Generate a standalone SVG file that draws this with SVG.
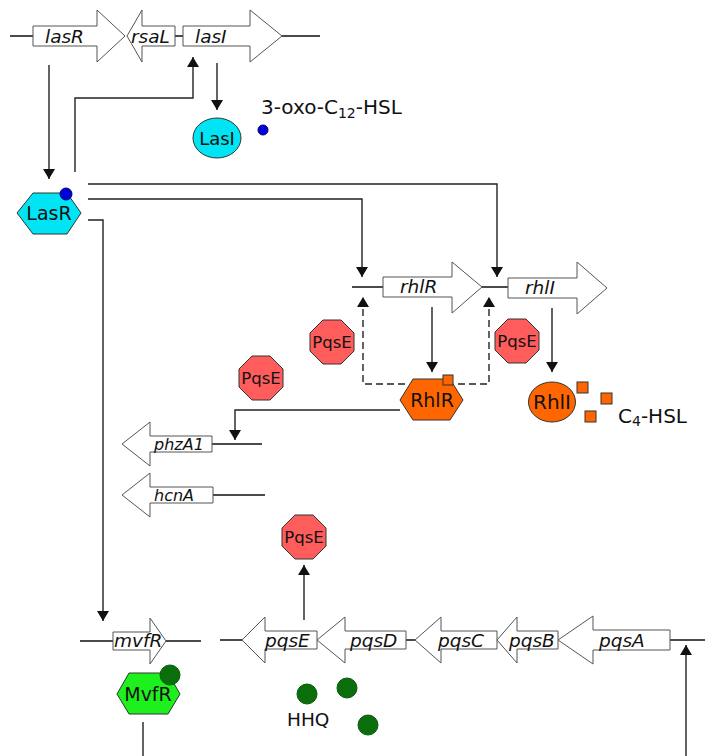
<svg xmlns="http://www.w3.org/2000/svg" width="705" height="756" viewBox="0 0 705 756">
<style>
.gene{fill:#fff;stroke:#555;stroke-width:1}
.dna{stroke:#111;stroke-width:1.5;fill:none}
.gl{font-family:"DejaVu Sans",Verdana,sans-serif;font-style:italic;fill:#111}
.pl{font-family:"DejaVu Sans",Verdana,sans-serif;fill:#111}
.con{stroke:#222;stroke-width:1.4;fill:none}
.dash{stroke:#222;stroke-width:1.4;fill:none;stroke-dasharray:7,4}
.pqse{fill:#FF5C5C;stroke:#333;stroke-width:1}
.cyan{fill:#00E4F4;stroke:#333;stroke-width:1}
.orange{fill:#FF6600;stroke:#333;stroke-width:1}
.green{fill:#1EF01E;stroke:#333;stroke-width:1}
.dg{fill:#0A6E0A;stroke:#0A5A0A;stroke-width:1}
.blue{fill:#0000DD;stroke:#000066;stroke-width:1}
</style>
<defs>
<marker id="ah" viewBox="0 0 10 12" refX="10" refY="6" markerWidth="10" markerHeight="12" markerUnits="userSpaceOnUse" orient="auto">
<path d="M0,0 L10,6 L0,12 Z" fill="#111"/>
</marker>
<polygon id="oct" points="-9,-22 9,-22 22,-9 22,9 9,22 -9,22 -22,9 -22,-9"/>
</defs>
<rect width="705" height="756" fill="#fff"/>

<!-- DNA lines -->
<g id="dna">
<path class="dna" d="M10,36 H33 M175,36 H183 M282,36 H320"/>
<path class="dna" d="M352,287 H383 M482,287 H508"/>
<path class="dna" d="M212,444 H262 M213,495 H265"/>
<path class="dna" d="M80,641 H113 M166,641 H201"/>
<path class="dna" d="M220,640 H242 M406,640 H415 M670,640 H705"/>
</g>

<!-- connectors -->
<g id="connectors">
<path class="con" d="M49,65 V179" marker-end="url(#ah)"/>
<path class="con" d="M75,172 V98 H193 V57" marker-end="url(#ah)"/>
<path class="con" d="M217,63 V110" marker-end="url(#ah)"/>
<path class="con" d="M88,184 H497 V277" marker-end="url(#ah)"/>
<path class="con" d="M88,199 H362 V277" marker-end="url(#ah)"/>
<path class="con" d="M88,220 H103 V621" marker-end="url(#ah)"/>
<path class="con" d="M432,307 V372" marker-end="url(#ah)"/>
<path class="con" d="M552,308 V372" marker-end="url(#ah)"/>
<path class="dash" d="M405,384 H363 V297" marker-end="url(#ah)"/>
<path class="dash" d="M458,384 H489 V297" marker-end="url(#ah)"/>
<path class="con" d="M400,410 H235 V440" marker-end="url(#ah)"/>
<path class="con" d="M304,620 V565" marker-end="url(#ah)"/>
<path class="con" d="M143,722 V756"/>
<path class="con" d="M686,756 V645" marker-end="url(#ah)"/>
</g>

<!-- genes -->
<g id="lasR-gene"><path class="gene" d="M33,26 H97 V10 L125,36 L97,62 V46 H33 Z"/><text class="gl" x="45" y="43" font-size="18.5">lasR</text></g>
<g id="rsaL-gene"><path class="gene" d="M175,26 H142 V10 L127,36 L142,62 V46 H175 Z"/><text class="gl" x="131" y="43" font-size="18.5">rsaL</text></g>
<g id="lasI-gene"><path class="gene" d="M183,26 H250 V10 L282,36 L250,62 V46 H183 Z"/><text class="gl" x="195" y="43" font-size="18.5">lasI</text></g>
<g id="rhlR-gene"><path class="gene" d="M383,277 H452 V262 L482,287 L452,313 V297 H383 Z"/><text class="gl" x="400" y="293" font-size="18.5">rhlR</text></g>
<g id="rhlI-gene"><path class="gene" d="M508,278 H577 V262 L607,288 L577,314 V298 H508 Z"/><text class="gl" x="525" y="294" font-size="18.5">rhlI</text></g>
<g id="phzA1-gene"><path class="gene" d="M212,436 H150 V422 L122,444 L150,466 V452 H212 Z"/><text class="gl" x="154" y="450" font-size="16">phzA1</text></g>
<g id="hcnA-gene"><path class="gene" d="M213,487 H150 V473 L122,495 L150,517 V503 H213 Z"/><text class="gl" x="154" y="501" font-size="16">hcnA</text></g>
<g id="mvfR-gene"><path class="gene" d="M113,632 H150 V618 L166,641 L150,664 V650 H113 Z"/><text class="gl" x="114" y="647" font-size="18.5">mvfR</text></g>
<g id="pqsE-gene"><path class="gene" d="M317,631 H265 V617 L242,640 L265,663 V649 H317 Z"/><text class="gl" x="265" y="647" font-size="18.5">pqsE</text></g>
<g id="pqsD-gene"><path class="gene" d="M406,631 H345 V617 L317,640 L345,663 V649 H406 Z"/><text class="gl" x="350" y="647" font-size="18.5">pqsD</text></g>
<g id="pqsC-gene"><path class="gene" d="M497,631 H441 V617 L415,640 L441,663 V649 H497 Z"/><text class="gl" x="438" y="647" font-size="18.5">pqsC</text></g>
<g id="pqsB-gene"><path class="gene" d="M558,631 H517 V617 L497,640 L517,663 V649 H558 Z"/><text class="gl" x="509" y="647" font-size="18.5">pqsB</text></g>
<g id="pqsA-gene"><path class="gene" d="M670,630 H593 V616 L558,640 L593,664 V650 H670 Z"/><text class="gl" x="599" y="647" font-size="18.5">pqsA</text></g>

<!-- proteins -->
<g id="LasI"><ellipse class="cyan" cx="217" cy="138" rx="24" ry="20"/><text class="pl" x="217" y="144.5" font-size="18" text-anchor="middle">LasI</text></g>
<g id="oxoC12"><circle class="blue" cx="263" cy="130" r="5"/><text class="pl" x="261" y="114" font-size="20">3-oxo-C<tspan font-size="14" dy="4">12</tspan><tspan dy="-4">-HSL</tspan></text></g>
<g id="LasR"><polygon class="cyan" points="17,213 33,193 67,193 81,213 67,234 33,234"/><text class="pl" x="49" y="220" font-size="19" text-anchor="middle">LasR</text><circle class="blue" cx="66" cy="194" r="6"/></g>
<g id="PqsE1"><use href="#oct" class="pqse" x="332" y="342"/><text class="pl" x="332" y="348" font-size="16.5" text-anchor="middle">PqsE</text></g>
<g id="PqsE2"><use href="#oct" class="pqse" x="261" y="378"/><text class="pl" x="261" y="384" font-size="16.5" text-anchor="middle">PqsE</text></g>
<g id="PqsE3"><use href="#oct" class="pqse" x="517" y="341"/><text class="pl" x="517" y="347" font-size="16.5" text-anchor="middle">PqsE</text></g>
<g id="PqsE4"><use href="#oct" class="pqse" x="304" y="537"/><text class="pl" x="304" y="543" font-size="16.5" text-anchor="middle">PqsE</text></g>
<g id="RhlR"><polygon class="orange" points="400,400 413,379 450,379 463,400 450,420 413,420"/><text class="pl" x="432" y="406.5" font-size="19" text-anchor="middle">RhlR</text><rect class="orange" x="443" y="375" width="10" height="10"/></g>
<g id="RhlI"><ellipse class="orange" cx="552" cy="402" rx="23.5" ry="20"/><text class="pl" x="552" y="409" font-size="20" text-anchor="middle">RhlI</text></g>
<g id="C4HSL"><rect class="orange" x="577" y="382" width="11" height="11"/><rect class="orange" x="601" y="393" width="11" height="11"/><rect class="orange" x="585" y="411" width="11" height="11"/><text class="pl" x="618" y="423" font-size="20">C<tspan font-size="14" dy="3">4</tspan><tspan dy="-3">-HSL</tspan></text></g>
<g id="MvfR"><polygon class="green" points="117,694 129,673 168,673 180,694 168,714 129,714"/><text class="pl" x="148" y="700.5" font-size="19" text-anchor="middle">MvfR</text><circle class="dg" cx="170" cy="675" r="10"/></g>
<g id="HHQ"><circle class="dg" cx="307" cy="694" r="10"/><circle class="dg" cx="347" cy="688" r="10"/><circle class="dg" cx="368" cy="725" r="10"/><text class="pl" x="287" y="726" font-size="18.5">HHQ</text></g>
</svg>
